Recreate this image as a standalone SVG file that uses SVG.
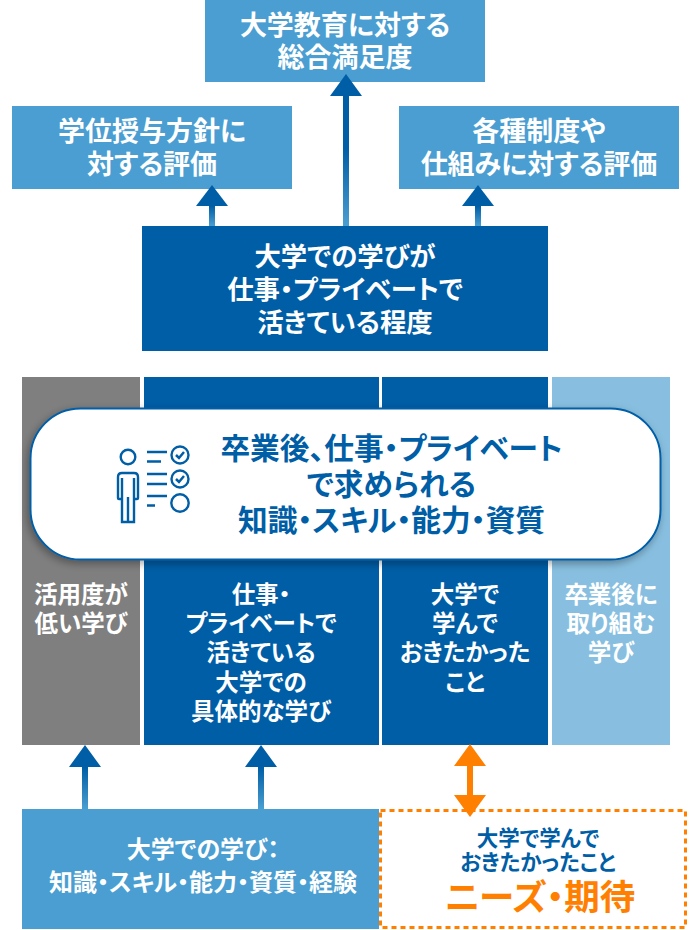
<svg xmlns="http://www.w3.org/2000/svg" width="690" height="930" viewBox="0 0 690 930">
<style>
text{font-family:"Noto Sans CJK JP","Noto Sans",sans-serif;font-weight:700;text-anchor:middle;font-feature-settings:"palt"}
.w{fill:#fff}.b{fill:#005ea6}
.t{font-size:27px}.m{font-size:26.400px}.c{font-size:23.500px}.p{font-size:29.700px}.l{font-size:24px}.s{font-size:21.500px}
.ic{fill:none;stroke:#005ea6;stroke-width:2.400}
</style>
<defs>
<linearGradient id="g" x1="0" y1="0" x2="0" y2="1"><stop offset="0" stop-color="#005ea6"/><stop offset="1" stop-color="#4a9ed1"/></linearGradient>
<linearGradient id="g2" gradientUnits="userSpaceOnUse" x1="0" y1="96" x2="0" y2="226"><stop offset="0.4" stop-color="#005ea6"/><stop offset="1" stop-color="#4a9ed1"/></linearGradient>
<filter id="s" x="-5%" y="-10%" width="110%" height="125%"><feDropShadow dx="-2" dy="3" stdDeviation="4" flood-color="#000" flood-opacity=".35"/></filter>
</defs>
<g id="top"><rect x="205" y="0" width="280" height="82" fill="#4a9ed1"/><text class="t w" x="345" y="35">大学教育に対する</text><text class="t w" x="345" y="67">総合満足度</text></g>
<g id="left"><rect x="12" y="106" width="280" height="83" fill="#4a9ed1"/><text class="t w" x="152" y="141">学位授与方針に</text><text class="t w" x="152" y="174">対する評価</text></g>
<g id="right"><rect x="399" y="106" width="280" height="83" fill="#4a9ed1"/><text class="t w" x="539" y="141">各種制度や</text><text class="t w" x="539" y="174">仕組みに対する評価</text></g>
<g id="mid"><rect x="142" y="226" width="406" height="125" fill="#005ea6"/><text class="m w" x="345" y="266">大学での学びが</text><text class="m w" x="345" y="299">仕事・プライベートで</text><text class="m w" x="345" y="332">活きている程度</text></g>
<g id="col1"><rect x="22" y="377" width="118" height="368" fill="#7f7f7f"/><text class="c w" x="81" y="603">活用度が</text><text class="c w" x="81" y="632">低い学び</text></g>
<g id="col2"><rect x="144" y="377" width="235" height="368" fill="#005ea6"/><text class="c w" x="261" y="603">仕事・</text><text class="c w" x="261" y="632">プライベートで</text><text class="c w" x="261" y="661">活きている</text><text class="c w" x="261" y="691">大学での</text><text class="c w" x="261" y="720">具体的な学び</text></g>
<g id="col3"><rect x="382" y="377" width="166" height="368" fill="#005ea6"/><text class="c w" x="465" y="603">大学で</text><text class="c w" x="465" y="632">学んで</text><text class="c w" x="465" y="661">おきたかった</text><text class="c w" x="465" y="691">こと</text></g>
<g id="col4"><rect x="552" y="377" width="118" height="368" fill="#88bfe0"/><text class="c w" x="611" y="603">卒業後に</text><text class="c w" x="611" y="632">取り組む</text><text class="c w" x="611" y="661">学び</text></g>
<g id="pill"><rect x="30.500" y="408.500" width="630" height="151" rx="50" fill="#fff" stroke="#005ea6" stroke-width="2" filter="url(#s)"/>
<g class="ic"><circle cx="128" cy="457" r="7.300"/><path d="M118 498v-21q0-4 4-4h12q4 0 4 4v21q0 1-1 1h-1.500q-1.500 0-1.500-1v-20M122 478v20q0 1-1 1h-2q-1 0-1-1M122 490v32h12v-32M128 497v25"/><path d="M147 452h20M147 461.500h14M147 474h20M147 484h20M147 496h20M147 505.500h8"/><circle cx="180" cy="455" r="8.500"/><circle cx="180" cy="479" r="8.500"/><circle cx="180" cy="503" r="8.700"/><path d="M176 455l3 3 5-6M176 479l3 3 5-6" stroke-width="2.500"/></g>
<text class="p b" x="391.500" y="459">卒業後、仕事・プライベート</text><text class="p b" x="391.500" y="495">で求められる</text><text class="p b" x="391.500" y="531">知識・スキル・能力・資質</text></g>
<g id="bottom-left"><rect x="22" y="809" width="357" height="120" fill="#4a9ed1"/><text class="l w" x="203" y="858">大学での学び：</text><text class="l w" x="203" y="891">知識・スキル・能力・資質・経験</text></g>
<g id="bottom-right"><rect x="380.500" y="810.500" width="305" height="117" fill="#fff" stroke="#ff8000" stroke-width="3" stroke-dasharray="5 4"/><text class="s b" x="538" y="846">大学で学んで</text><text class="s b" x="538" y="870">おきたかったこと</text><text x="540" y="910" font-size="35.500" fill="#ff8000">ニーズ・期待</text></g>
<g id="connectors">
<path d="M343 96h6v130h-6z" fill="url(#g2)"/><path d="M346 74l16 22h-32z" fill="#005ea6"/>
<path d="M209 206h6v20h-6z" fill="url(#g)"/><path d="M212 185l16 21h-32z" fill="#005ea6"/>
<path d="M475 206h6v20h-6z" fill="url(#g)"/><path d="M478 185l16 21h-32z" fill="#005ea6"/>
<path d="M82 767h6v42h-6z" fill="url(#g)"/><path d="M85 745l16 22h-32z" fill="#005ea6"/>
<path d="M258 767h6v42h-6z" fill="url(#g)"/><path d="M261 745l16 22h-32z" fill="#005ea6"/>
<path d="M470 744l16 22h-13v29h13l-16 22-16-22h13v-29h-13z" fill="#ff8000"/>
</g>
</svg>
